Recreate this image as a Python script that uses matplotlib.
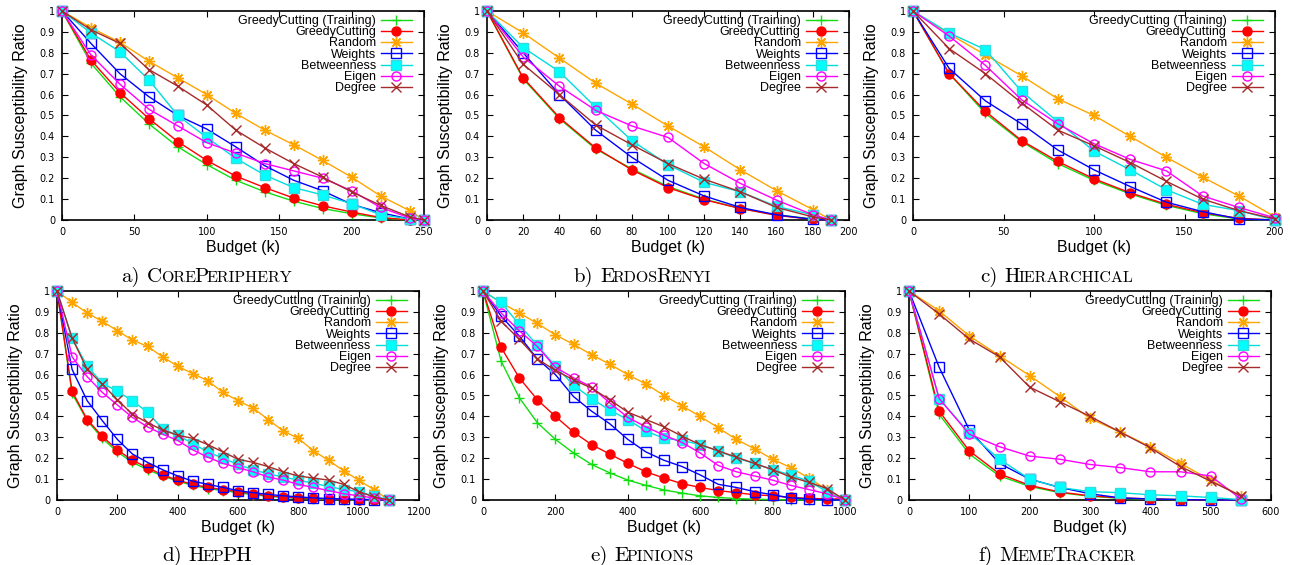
import matplotlib
matplotlib.use('Agg')
import matplotlib.pyplot as plt
from matplotlib.ticker import FuncFormatter, MultipleLocator

series_names = ['GreedyCutting (Training)', 'GreedyCutting', 'Random', 'Weights',
                'Betweenness', 'Eigen', 'Degree']

# a) CorePeriphery
core_x = [0, 20, 40, 60, 80, 100, 120, 140, 160, 180, 200, 220, 240, 250]
core_training = [1, 0.75, 0.59, 0.46, 0.35, 0.265, 0.19, 0.135, 0.09, 0.055, 0.03, 0.01, 0.0, 0]
core_greedy = [1, 0.765, 0.61, 0.485, 0.375, 0.285, 0.21, 0.155, 0.105, 0.068, 0.038, 0.012, 0.0, 0]
core_random = [1, 0.92, 0.85, 0.76, 0.68, 0.60, 0.51, 0.43, 0.36, 0.285, 0.205, 0.115, 0.045, 0]
core_weights = [1, 0.845, 0.70, 0.59, 0.50, 0.435, 0.35, 0.26, 0.19, 0.14, 0.075, 0.035, 0.005, 0]
core_betw = [1, 0.895, 0.805, 0.67, 0.50, 0.395, 0.295, 0.215, 0.155, 0.12, 0.078, 0.025, 0.005, 0]
core_eigen = [1, 0.79, 0.65, 0.53, 0.45, 0.37, 0.32, 0.27, 0.235, 0.20, 0.14, 0.06, 0.01, 0]
core_degree = [1, 0.91, 0.845, 0.72, 0.64, 0.55, 0.43, 0.345, 0.27, 0.205, 0.135, 0.07, 0.015, 0]

# b) ErdosRenyi
erdos_x = [0, 20, 40, 60, 80, 100, 120, 140, 160, 180, 190]
erdos_training = [1, 0.675, 0.485, 0.34, 0.245, 0.16, 0.10, 0.055, 0.025, 0.005, 0]
erdos_greedy = [1, 0.68, 0.49, 0.345, 0.24, 0.155, 0.097, 0.055, 0.022, 0.003, 0]
erdos_random = [1, 0.895, 0.775, 0.655, 0.555, 0.45, 0.35, 0.24, 0.14, 0.05, 0]
erdos_weights = [1, 0.80, 0.60, 0.43, 0.30, 0.19, 0.115, 0.06, 0.025, 0.003, 0]
erdos_betw = [1, 0.825, 0.71, 0.54, 0.38, 0.265, 0.18, 0.135, 0.065, 0.025, 0]
erdos_eigen = [1, 0.78, 0.64, 0.525, 0.45, 0.395, 0.27, 0.175, 0.095, 0.025, 0]
erdos_degree = [1, 0.745, 0.60, 0.455, 0.36, 0.27, 0.195, 0.135, 0.06, 0.015, 0]

# c) Hierarchical
hier_x = [0, 20, 40, 60, 80, 100, 120, 140, 160, 180, 200]
hier_training = [1, 0.70, 0.51, 0.375, 0.27, 0.19, 0.125, 0.07, 0.03, 0.005, 0]
hier_greedy = [1, 0.70, 0.52, 0.38, 0.28, 0.197, 0.13, 0.075, 0.035, 0.008, 0]
hier_random = [1, 0.89, 0.79, 0.69, 0.58, 0.50, 0.40, 0.30, 0.205, 0.115, 0.015]
hier_weights = [1, 0.725, 0.57, 0.46, 0.335, 0.24, 0.16, 0.085, 0.04, 0.005, 0]
hier_betw = [1, 0.895, 0.815, 0.615, 0.47, 0.33, 0.24, 0.145, 0.075, 0.045, 0]
hier_eigen = [1, 0.88, 0.74, 0.575, 0.46, 0.365, 0.29, 0.235, 0.115, 0.06, 0.01]
hier_degree = [1, 0.82, 0.70, 0.56, 0.43, 0.355, 0.275, 0.185, 0.10, 0.045, 0.005]

# d) HepPH
hep_x = [0, 50, 100, 150, 200, 250, 300, 350, 400, 450, 500, 550, 600, 650, 700, 750,
         800, 850, 900, 950, 1000, 1050, 1100]
hep_training = [1, 0.51, 0.38, 0.295, 0.23, 0.18, 0.145, 0.115, 0.09, 0.07, 0.055, 0.045,
                0.035, 0.025, 0.018, 0.012, 0.008, 0.005, 0.003, 0.002, 0.001, 0, 0]
hep_greedy = [1, 0.52, 0.385, 0.305, 0.24, 0.19, 0.155, 0.12, 0.095, 0.075, 0.06, 0.05,
              0.04, 0.03, 0.02, 0.015, 0.01, 0.008, 0.005, 0.003, 0.002, 0.001, 0]
hep_random = [1, 0.945, 0.895, 0.855, 0.81, 0.765, 0.735, 0.685, 0.64, 0.605, 0.57, 0.515,
              0.475, 0.44, 0.385, 0.33, 0.295, 0.235, 0.19, 0.14, 0.095, 0.05, 0]
hep_weights = [1, 0.625, 0.475, 0.38, 0.29, 0.22, 0.18, 0.145, 0.115, 0.09, 0.075, 0.06,
               0.045, 0.035, 0.027, 0.02, 0.015, 0.01, 0.007, 0.005, 0.003, 0.002, 0]
hep_betw = [1, 0.775, 0.64, 0.56, 0.52, 0.475, 0.42, 0.34, 0.31, 0.27, 0.23, 0.20,
            0.17, 0.145, 0.125, 0.11, 0.095, 0.08, 0.065, 0.05, 0.04, 0.02, 0]
hep_eigen = [1, 0.685, 0.59, 0.515, 0.455, 0.395, 0.35, 0.315, 0.285, 0.24, 0.205, 0.175,
             0.155, 0.135, 0.11, 0.095, 0.075, 0.06, 0.045, 0.03, 0.02, 0.01, 0]
hep_degree = [1, 0.775, 0.625, 0.555, 0.48, 0.41, 0.37, 0.335, 0.31, 0.295, 0.265, 0.23,
              0.195, 0.18, 0.16, 0.135, 0.115, 0.105, 0.095, 0.075, 0.04, 0.015, 0]

# e) Epinions
epi_x = [0, 50, 100, 150, 200, 250, 300, 350, 400, 450, 500, 550, 600, 650, 700, 750,
         800, 850, 900, 950, 1000]
epi_training = [1, 0.665, 0.49, 0.37, 0.29, 0.225, 0.17, 0.13, 0.095, 0.07, 0.048, 0.033,
                0.02, 0.012, 0.007, 0.004, 0.002, 0.001, 0, 0, 0]
epi_greedy = [1, 0.73, 0.585, 0.48, 0.40, 0.325, 0.265, 0.22, 0.175, 0.135, 0.105, 0.078,
              0.06, 0.045, 0.035, 0.025, 0.02, 0.012, 0.008, 0.005, 0.005]
epi_random = [1, 0.945, 0.895, 0.845, 0.79, 0.745, 0.695, 0.65, 0.60, 0.555, 0.50, 0.45,
              0.40, 0.345, 0.29, 0.245, 0.195, 0.155, 0.105, 0.05, 0]
epi_weights = [1, 0.88, 0.785, 0.675, 0.60, 0.495, 0.425, 0.365, 0.29, 0.23, 0.19, 0.16,
               0.12, 0.075, 0.06, 0.04, 0.025, 0.01, 0.005, 0.0, 0]
epi_betw = [1, 0.945, 0.84, 0.74, 0.64, 0.55, 0.485, 0.43, 0.385, 0.33, 0.295, 0.285,
            0.265, 0.235, 0.20, 0.175, 0.145, 0.12, 0.09, 0.04, 0]
epi_eigen = [1, 0.895, 0.81, 0.735, 0.635, 0.585, 0.54, 0.465, 0.395, 0.35, 0.31, 0.275,
             0.225, 0.165, 0.135, 0.115, 0.095, 0.07, 0.05, 0.03, 0]
epi_degree = [1, 0.855, 0.77, 0.675, 0.62, 0.575, 0.535, 0.48, 0.42, 0.385, 0.35, 0.305,
              0.265, 0.235, 0.205, 0.175, 0.145, 0.11, 0.085, 0.055, 0]

# f) MemeTracker
meme_x = [0, 50, 100, 150, 200, 250, 300, 350, 400, 450, 500, 550]
meme_training = [1, 0.41, 0.22, 0.115, 0.065, 0.035, 0.018, 0.008, 0.004, 0.002, 0.001, 0]
meme_greedy = [1, 0.425, 0.235, 0.125, 0.07, 0.038, 0.02, 0.01, 0.005, 0.002, 0, 0]
meme_random = [1, 0.905, 0.785, 0.69, 0.595, 0.495, 0.39, 0.325, 0.255, 0.175, 0.095, 0.02]
meme_weights = [1, 0.635, 0.335, 0.175, 0.10, 0.06, 0.03, 0.01, 0.005, 0.002, 0.0, 0]
meme_betw = [1, 0.485, 0.32, 0.195, 0.10, 0.06, 0.04, 0.035, 0.025, 0.02, 0.012, 0.002]
meme_eigen = [1, 0.485, 0.315, 0.255, 0.21, 0.195, 0.17, 0.155, 0.135, 0.135, 0.115, 0.005]
meme_degree = [1, 0.89, 0.77, 0.685, 0.54, 0.47, 0.40, 0.325, 0.25, 0.16, 0.09, 0.02]

panels = [
    ('a)', 'CorePeriphery', core_x, [core_training, core_greedy, core_random, core_weights,
                                     core_betw, core_eigen, core_degree], 250, 50),
    ('b)', 'ErdosRenyi', erdos_x, [erdos_training, erdos_greedy, erdos_random, erdos_weights,
                                   erdos_betw, erdos_eigen, erdos_degree], 200, 20),
    ('c)', 'Hierarchical', hier_x, [hier_training, hier_greedy, hier_random, hier_weights,
                                    hier_betw, hier_eigen, hier_degree], 200, 50),
    ('d)', 'HepPH', hep_x, [hep_training, hep_greedy, hep_random, hep_weights,
                            hep_betw, hep_eigen, hep_degree], 1200, 200),
    ('e)', 'Epinions', epi_x, [epi_training, epi_greedy, epi_random, epi_weights,
                               epi_betw, epi_eigen, epi_degree], 1000, 200),
    ('f)', 'MemeTracker', meme_x, [meme_training, meme_greedy, meme_random, meme_weights,
                                   meme_betw, meme_eigen, meme_degree], 600, 100),
]

styles = [
    dict(color='#11dd11', marker='+', ms=7, mew=1.0),
    dict(color='#ff0000', marker='o', ms=6.5, mfc='#ff0000', mec='#ff0000'),
    dict(color='#ffa500', marker=(8, 2, 0), ms=8, mew=1.0),
    dict(color='#0000ff', marker='s', ms=6.5, mfc='none', mew=1.0),
    dict(color='#00dddd', marker='s', ms=6.5, mfc='#00ffff', mec='#33dddd'),
    dict(color='#ff00ff', marker='o', ms=6.5, mfc='none', mew=1.0),
    dict(color='#a52a2a', marker='x', ms=6.5, mew=1.0),
]

W, H = 1290, 565
fig = plt.figure(figsize=(W / 100, H / 100), dpi=100)

# axes boxes in pixels: left, top
boxes = [(62, 11), (487, 11), (913, 11), (57, 291), (483, 291), (909, 291)]
ax_w, ax_h = 362, 209
caption_x = [207, 642, 1057, 207, 642, 1057]
caption_y = [282, 282, 282, 561, 561, 561]

sans = 'Liberation Sans'


def draw_caption(xc, ybase, prefix, name, big=15, small=11.5):
    # emulate LaTeX small caps with two sizes of Computer Modern
    runs = []
    for ch in name:
        size = big if ch.isupper() else small
        if runs and runs[-1][1] == size:
            runs[-1][0] += ch.upper()
        else:
            runs.append([ch.upper(), size])
    renderer = fig.canvas.get_renderer()
    yf = 1 - ybase / H
    texts = [fig.text(0, yf, prefix, fontsize=big, family='cmr10', va='baseline')]
    gaps = [big * 100 / 72 * 0.333]
    for s, size in runs:
        texts.append(fig.text(0, yf, s, fontsize=size, family='cmr10', va='baseline'))
        gaps.append(-1.5)
    widths = [t.get_window_extent(renderer).width for t in texts]
    total = sum(widths) + sum(gaps[:-1])
    x = xc - total / 2
    for t, w, g in zip(texts, widths, gaps):
        t.set_x(x / W)
        x += w + g


for i, (tag, name, xs, ys_list, xmax, xstep) in enumerate(panels):
    left, top = boxes[i]
    ax = fig.add_axes([left / W, 1 - (top + ax_h) / H, ax_w / W, ax_h / H])
    for label, ys, st in zip(series_names, ys_list, styles):
        ax.plot(xs, ys, lw=1.0, label=label, clip_on=False, zorder=3, **st)
    ax.set_xlim(0, xmax)
    ax.set_ylim(0, 1)
    ax.xaxis.set_major_locator(MultipleLocator(xstep))
    ax.yaxis.set_major_locator(MultipleLocator(0.1))
    ax.yaxis.set_major_formatter(FuncFormatter(lambda v, p: '%g' % round(v, 2)))
    ax.tick_params(direction='in', length=4, width=0.8, top=True, right=True,
                   labelsize=7, pad=5)
    for lab in ax.get_xticklabels() + ax.get_yticklabels():
        lab.set_family('DejaVu Sans')
    for sp in ax.spines.values():
        sp.set_linewidth(1.2)
    ax.set_xlabel('Budget (k)', fontsize=11.5, family=sans)
    ax.set_ylabel('Graph Susceptibility Ratio', fontsize=11.5, family=sans)
    ax.xaxis.set_label_coords(0.5, -0.096)
    ax.yaxis.set_label_coords(-0.094, 0.5)
    ax.legend(loc='upper right', bbox_to_anchor=(1 - 12 / ax_w, 1 - 4 / ax_h),
              frameon=False, markerfirst=False, numpoints=1,
              prop={'family': sans, 'size': 9}, handlelength=2.5,
              handletextpad=0.4, labelspacing=-0.06, borderpad=0, borderaxespad=0)
    draw_caption(caption_x[i], caption_y[i], tag, name)

fig.savefig('out.png', dpi=100)
